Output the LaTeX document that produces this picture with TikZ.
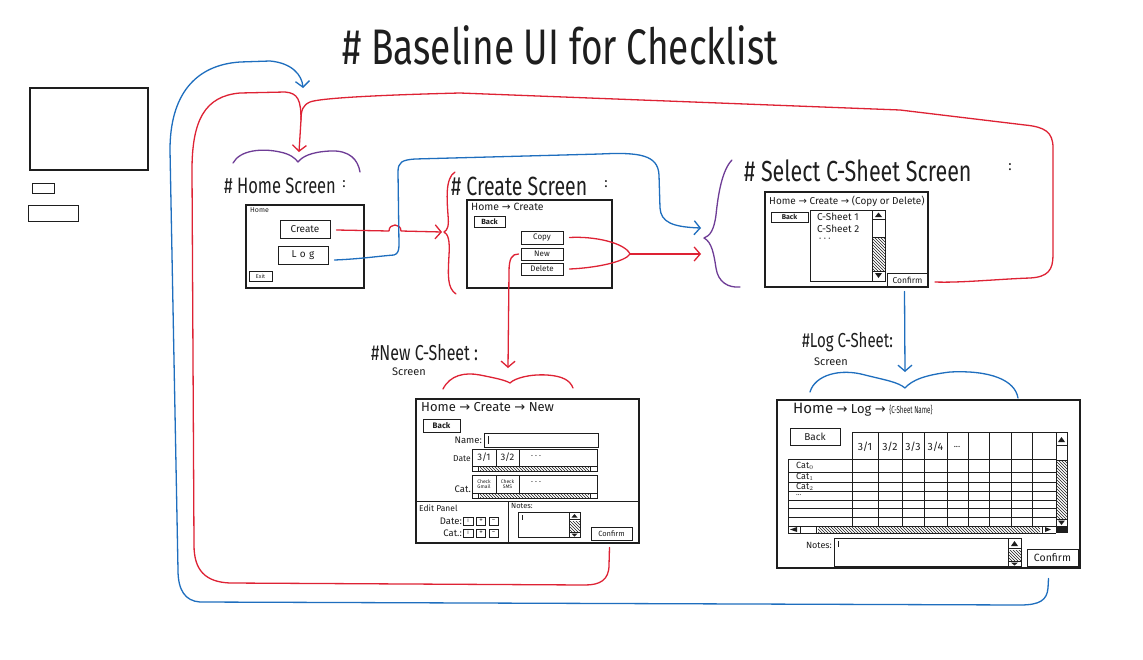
\documentclass[tikz,border=0pt]{standalone}
\usepackage{graphicx}
\usepackage{fontspec}
\setmainfont{Fira Sans}
\newfontfamily\symfont{DejaVu Sans}
\usetikzlibrary{arrows.meta,patterns,calc}
\definecolor{inkred}{RGB}{222,34,52}
\definecolor{inkblue}{RGB}{30,110,190}
\definecolor{inkpurple}{RGB}{110,60,150}
\definecolor{ink}{RGB}{30,30,30}
\newcommand{\fsz}[1]{\fontsize{#1}{#1}\selectfont}
\newcommand{\rarr}{{\symfont →}}
\newcommand{\tallt}[1]{\scalebox{1}[1.35]{#1}}
\begin{document}
\begin{tikzpicture}[x=1pt,y=-1pt,
  win/.style={draw=ink,line width=1.1pt,inner sep=0pt},
  btn/.style={draw=ink,line width=0.9pt,inner sep=0pt,text=ink},
  lbl/.style={inner sep=0pt,text=ink},
  sk/.style={draw=ink,line width=0.8pt},
  hatch/.style={pattern=north west lines,pattern color=ink},
  redl/.style={draw=inkred,line width=1.3pt,line cap=round,line join=round},
  bluel/.style={draw=inkblue,line width=1.3pt,line cap=round,line join=round},
  purl/.style={draw=inkpurple,line width=1.3pt,line cap=round,line join=round},
  tip/.style={-{Straight Barb[length=6pt,width=14pt]}}]
\path[use as bounding box,fill=white] (0,0) rectangle (1143,659);

% title
\node[lbl,font=\fsz{37}] (title) at (560,45) {\tallt{\# Baseline UI for Checklist}};

% left sketch boxes
\node[win,minimum width=118pt,minimum height=82pt] (sk1) at (89,129) {};
\node[win,line width=0.9pt,minimum width=22pt,minimum height=10pt] (sk2) at (43,188) {};
\node[win,line width=0.9pt,minimum width=50pt,minimum height=16pt] (sk3) at (53,213) {};

% ---------- Home screen ----------
\node[lbl,anchor=west,font=\fsz{16.5}] (homeT) at (224,186) {\tallt{\# Home Screen}};
\node[lbl,font=\fsz{14}] (homeC) at (344,184) {:};
\node[win,minimum width=118pt,minimum height=83pt] (homeW) at (305,246.5) {};
\node[lbl,anchor=north west,font=\fsz{7}] (homeP) at (250,207) {Home};
\node[btn,minimum width=50pt,minimum height=18pt,font=\fsz{10}] (hcreate) at (305,229) {Create};
\node[btn,minimum width=50pt,minimum height=18pt,font=\fsz{10}] (hlog) at (303,255) {L\,\,o\,\,g};
\node[btn,minimum width=23pt,minimum height=10pt,font=\fsz{5.5}] (hexit) at (260.5,276) {Exit};
\draw[purl] (233,163) .. controls (240,150) and (262,148) .. (280,152) .. controls (290,154) and (295,158) .. (298,162) .. controls (302,157) and (310,152) .. (330,151) .. controls (350,150) and (358,160) .. (360,172);
\coordinate (homeIn) at (299,152);
\coordinate (homeTop) at (303,88);

% ---------- Create screen ----------
\node[lbl,anchor=west,font=\fsz{19.5}] (createT) at (451,186) {\tallt{\# Create Screen}};
\node[lbl,font=\fsz{14}] (createC) at (606,184) {:};
\node[win,minimum width=145pt,minimum height=88pt] (createW) at (539.5,244) {};
\node[lbl,anchor=north west,font=\fsz{10.5}] (createP) at (471,203) {Home \rarr\ Create};
\node[btn,minimum width=31pt,minimum height=11pt,font=\fsz{7.5}\bfseries] (cback) at (489.5,221.5) {Back};
\node[btn,minimum width=42pt,minimum height=13pt,font=\fsz{8}] (ccopy) at (542,237.5) {Copy};
\node[btn,minimum width=42pt,minimum height=12pt,font=\fsz{8}] (cnew) at (542,254) {New};
\node[btn,minimum width=42pt,minimum height=12pt,font=\fsz{8}] (cdel) at (542,269) {Delete};
\draw[redl] (455,172) .. controls (445,178) and (447,200) .. (448,215) .. controls (449,225) and (448,230) .. (444,232) .. controls (448,234) and (450,240) .. (449,255) .. controls (448,275) and (447,288) .. (456,294);
\coordinate (createIn) at (442,232);

% ---------- Select C-Sheet screen ----------
\node[lbl,anchor=west,font=\fsz{21.5}] (selT) at (744,171) {\tallt{\# Select C-Sheet Screen}};
\node[lbl,font=\fsz{14}] (selC) at (1010,167) {:};
\node[win,minimum width=163pt,minimum height=95pt] (selW) at (846.5,239.5) {};
\node[lbl,anchor=north west,font=\fsz{10}] (selP) at (769,196) {Home \rarr\ Create \rarr\ (Copy or Delete)};
\node[btn,minimum width=37pt,minimum height=10pt,font=\fsz{7}\bfseries] (sback) at (789.5,217) {Back};
\node[win,line width=0.9pt,minimum width=75pt,minimum height=71pt] (slist) at (847.5,245.5) {};
\draw[sk] (872,210) -- (872,281);
\draw[sk] (872,219) -- (885,219);
\draw[sk,hatch] (872,237) rectangle (885,271);
\fill[ink] (875,217) -- (882,217) -- (878.5,212.5) -- cycle;
\fill[ink] (875,273) -- (882,273) -- (878.5,278) -- cycle;
\node[lbl,anchor=west,font=\fsz{10}] (s1) at (817,217) {C-Sheet 1};
\node[lbl,anchor=west,font=\fsz{10}] (s2) at (817,229) {C-Sheet 2};
\node[lbl,anchor=west,font=\fsz{9}] (s3) at (819,240) {· · ·};
\node[btn,minimum width=40pt,minimum height=14pt,font=\fsz{8.5}] (sconf) at (907.5,280) {Confirm};
\draw[purl] (732,160) .. controls (722,170) and (718,195) .. (716,215) .. controls (714,230) and (710,236) .. (704,238) .. controls (712,242) and (714,255) .. (716,268) .. controls (718,282) and (728,288) .. (740,287);
\coordinate (selIn) at (701,228);
\coordinate (selIn2) at (701,254);

% ---------- New C-Sheet screen ----------
\node[lbl,anchor=west,font=\fsz{16}] (newT) at (371,353) {\tallt{\#New C-Sheet :}};
\node[lbl,anchor=west,font=\fsz{11}] (newS) at (392,372) {Screen};
\draw[redl] (443,389) .. controls (450,375) and (465,372) .. (480,375) .. controls (495,378) and (505,380) .. (510,383) .. controls (515,378) and (530,374) .. (547,375) .. controls (562,376) and (570,380) .. (573,388);
\coordinate (newIn) at (508,368);
\node[win,minimum width=223pt,minimum height=144pt] (newW) at (527.5,471) {};
\node[lbl,anchor=north west,font=\fsz{13}] (newP) at (421,402) {Home \rarr\ Create \rarr\ New};
\node[btn,minimum width=37pt,minimum height=13pt,font=\fsz{8}\bfseries] (nback) at (441.5,426) {Back};
\node[lbl,anchor=east,font=\fsz{9.5}] (nname) at (482,440) {Name:};
\node[win,line width=0.9pt,minimum width=114pt,minimum height=14pt] (nnamef) at (541,440) {};
\draw[sk] (488,436) -- (488,444);
% date row
\node[lbl,anchor=east,font=\fsz{8.5}] (ndate) at (471,459) {Date};
\node[win,line width=0.9pt,minimum width=125pt,minimum height=22pt] (ndatef) at (534.5,460) {};
\draw[sk] (496,449) -- (496,466) (519,449) -- (519,466) (472,466) -- (597,466);
\draw[sk] (478,466) -- (478,471) (590,466) -- (590,471);
\path[hatch] (480,466) rectangle (589,471);
\node[lbl,font=\fsz{9.5}] (nd1) at (484,457) {3/1};
\node[lbl,font=\fsz{9.5}] (nd2) at (507.5,457) {3/2};
\node[lbl,font=\fsz{8}] (nd3) at (536,457) {· · ·};
% cat row
\node[lbl,anchor=east,font=\fsz{9.5}] (ncat) at (471,489) {Cat.};
\node[win,line width=0.9pt,minimum width=125pt,minimum height=23pt] (ncatf) at (534.5,486.5) {};
\draw[sk] (496,475) -- (496,493) (519,475) -- (519,493) (472,493) -- (597,493);
\draw[sk] (478,493) -- (478,498) (590,493) -- (590,498);
\path[hatch] (480,493) rectangle (589,498);
\node[lbl,font=\fsz{5},align=center] (nc1) at (484,484) {Check\\Gmail};
\node[lbl,font=\fsz{5},align=center] (nc2) at (507.5,484) {Check\\SMS};
\node[lbl,font=\fsz{8}] (nc3) at (536,483) {· · ·};
% edit panel
\draw[sk,line width=1pt] (416,501) -- (639,501) (508,501) -- (508,543);
\node[lbl,anchor=west,font=\fsz{8.5}] (nedit) at (419,508) {Edit Panel};
\node[lbl,anchor=east,font=\fsz{9.5}] (ned) at (462,521) {Date:};
\node[lbl,anchor=east,font=\fsz{9.5}] (nec) at (462,533) {Cat.:};
\node[btn,minimum width=10pt,minimum height=8pt,font=\fsz{5}] (nedi) at (468,521) {I};
\node[btn,minimum width=9pt,minimum height=8pt,font=\fsz{7}] (nedp) at (481,521) {+};
\node[btn,minimum width=9pt,minimum height=8pt,font=\fsz{7}] (nedm) at (493.5,521) {−};
\node[btn,minimum width=10pt,minimum height=8pt,font=\fsz{5}] (neci) at (468,533) {I};
\node[btn,minimum width=9pt,minimum height=8pt,font=\fsz{7}] (necp) at (481,533) {+};
\node[btn,minimum width=9pt,minimum height=8pt,font=\fsz{7}] (necm) at (493.5,533) {−};
\node[lbl,anchor=west,font=\fsz{7.5}] (nnotes) at (511,506) {Notes:};
\node[win,line width=0.9pt,minimum width=62pt,minimum height=25pt] (nnotesf) at (549,524.5) {};
\draw[sk] (522,515) -- (522,520);
\draw[sk] (569,512) -- (569,537) (569,519) -- (580,519) (569,532) -- (580,532);
\path[hatch] (569,521) rectangle (580,531);
\fill[ink] (571.5,517.5) -- (577.5,517.5) -- (574.5,514) -- cycle;
\fill[ink] (571.5,533.5) -- (577.5,533.5) -- (574.5,536.5) -- cycle;
\node[btn,minimum width=41pt,minimum height=13pt,font=\fsz{7.5}] (nconf) at (611.5,533.5) {Confirm};

% ---------- Log C-Sheet screen ----------
\node[lbl,anchor=west,font=\fsz{15}] (logT) at (802,342) {\tallt{\#Log C-Sheet:}};
\node[lbl,anchor=west,font=\fsz{11}] (logS) at (814,362) {Screen};
\draw[bluel] (810,392) .. controls (815,375) and (840,368) .. (865,375) .. controls (885,380) and (898,382) .. (905,388) .. controls (912,380) and (925,375) .. (950,372) .. controls (990,370) and (1015,380) .. (1018,398);
\coordinate (logIn) at (905,372);
\node[win,minimum width=303pt,minimum height=168pt] (logW) at (928.5,484) {};
\node[lbl,anchor=north west,font=\fsz{13}] (logP) at (793,403) {{\fsz{15}Home} \rarr\ Log \rarr\ \scalebox{0.62}[1]{\fsz{10}\{C-Sheet Name\}}};
\node[btn,minimum width=50pt,minimum height=17pt,font=\fsz{10}] (lback) at (815,436.5) {Back};
% grid
\draw[sk] (852,432) -- (1067,432);
\foreach \gx in {852,878,902,924,947,968,989,1011,1032} {\draw[sk] (\gx,432) -- (\gx,526);}
\draw[sk] (1056,432) -- (1056,533) (1067,432) -- (1067,533);
\draw[sk] (788,459) -- (788,533);
\foreach \gy in {459,472.5,482.5,491.5,500,508.5,517.5,526} {\draw[sk] (788,\gy) -- (1056,\gy);}
\draw[sk] (788,533) -- (1056,533);
\draw[sk] (800,526) -- (800,533) (816,526) -- (816,533) (1042,526) -- (1042,533);
\path[hatch] (818,526) rectangle (1040,533);
\fill[ink] (790,529.5) -- (797,527) -- (797,532) -- cycle;
\fill[ink] (1045,527) -- (1045,532) -- (1051,529.5) -- cycle;
\fill[ink] (1056,526) rectangle (1067,533);
\draw[sk] (1056,445) -- (1067,445);
\fill[ink] (1058,442) -- (1065,442) -- (1061.5,437) -- cycle;
\path[hatch] (1056,460) rectangle (1067,519);
\draw[sk] (1056,460) -- (1067,460) (1056,519) -- (1067,519);
\fill[ink] (1058,520.5) -- (1065,520.5) -- (1061.5,525) -- cycle;
\node[lbl,font=\fsz{10.5}] (lh1) at (865,447) {3/1};
\node[lbl,font=\fsz{10.5}] (lh2) at (890,447) {3/2};
\node[lbl,font=\fsz{10.5}] (lh3) at (913,447) {3/3};
\node[lbl,font=\fsz{10.5}] (lh4) at (935.5,447) {3/4};
\node[lbl,font=\fsz{9}] (lh5) at (957,447) {...};
\node[lbl,anchor=west,font=\fsz{9}] (lr0) at (796,466) {Cat$_0$};
\node[lbl,anchor=west,font=\fsz{9}] (lr1) at (796,477) {Cat$_1$};
\node[lbl,anchor=west,font=\fsz{9}] (lr2) at (796,487) {Cat$_2$};
\node[lbl,anchor=west,font=\fsz{7}] (lr3) at (796,495) {...};
\node[lbl,anchor=east,font=\fsz{9}] (lnotes) at (832,545) {Notes:};
\node[win,line width=0.9pt,minimum width=187pt,minimum height=28pt] (lnotesf) at (927.5,552) {};
\draw[sk] (838,541) -- (838,547);
\draw[sk] (1008,538) -- (1008,566) (1008,548) -- (1021,548) (1008,561) -- (1021,561);
\path[hatch] (1008,550) rectangle (1021,560);
\fill[ink] (1011,546) -- (1018,546) -- (1014.5,541) -- cycle;
\fill[ink] (1011,562.5) -- (1018,562.5) -- (1014.5,565.5) -- cycle;
\node[btn,minimum width=51pt,minimum height=17pt,font=\fsz{10.5}] (lconf) at (1052.5,557.5) {Confirm};

% ---------- connectors ----------
\draw[redl,tip] ($(hcreate.east)+(6,1)$) -- (389,231) .. controls (389,223) and (401,223) .. (401,231) -- (createIn);
\draw[bluel,tip] ($(hlog.east)+(6,5)$) .. controls (360,259) and (380,256) .. (394,255) .. controls (398,254) and (399,250) .. (399,245) -- (398,172) .. controls (398,162) and (402,160) .. (415,159) -- (600,154) .. controls (640,152) and (658,155) .. (659,175) -- (660,208) .. controls (661,222) and (672,227) .. (selIn);
\coordinate (cjoin) at (630,254);
\draw[redl] ($(ccopy.east)+(6,0)$) .. controls (595,236) and (625,243) .. (cjoin);
\draw[redl] ($(cdel.east)+(6,0)$) .. controls (595,268) and (625,262) .. (cjoin);
\draw[redl,tip] (cjoin) -- (selIn2);
\draw[redl,tip] ($(cnew.west)+(-2,0)$) .. controls (512,254) and (509,258) .. (509,272) -- (newIn);
\draw[bluel,tip] ($(sconf.south)+(-3,4)$) -- (logIn);
\draw[redl,tip] ($(sconf.east)+(7,2)$) .. controls (960,283) and (1000,279) .. (1030,278) .. controls (1048,277) and (1053,270) .. (1053,255) -- (1053,148) .. controls (1053,132) and (1045,127) .. (1025,125) -- (900,110) -- (460,93) .. controls (380,95) and (320,98) .. (310,102) .. controls (303,105) and (301,110) .. (301,120) -- (homeIn);
\draw[redl] ($(nconf.south)+(-2,7)$) -- (609,565) .. controls (609,580) and (600,585) .. (585,585) -- (230,583) .. controls (205,582) and (194,570) .. (194,545) -- (192,170) .. controls (192,120) and (205,96) .. (240,93) -- (285,92) .. controls (298,93) and (301,100) .. (301,120);
\draw[bluel,tip] ($(lconf.south)+(-4,12)$) -- (1048,588) .. controls (1047,600) and (1040,605) .. (1020,605) -- (200,602) .. controls (185,601) and (178,590) .. (178,570) -- (170,150) .. controls (170,95) and (195,65) .. (240,62) -- (270,61) .. controls (292,63) and (302,75) .. (homeTop);
\end{tikzpicture}
\end{document}
